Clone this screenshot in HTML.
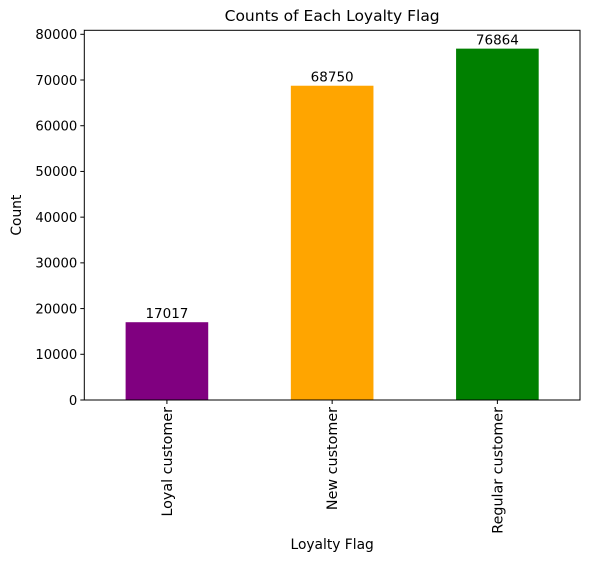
<!DOCTYPE html>
<html><head><meta charset="utf-8"><style>
body{margin:0;background:#fff;}
svg{display:block;font-family:"DejaVu Sans","Liberation Sans",sans-serif;}
</style></head><body>
<svg id="chart" width="589" height="562" xmlns="http://www.w3.org/2000/svg"></svg>
<script>
const categories = ["Loyal customer","New customer","Regular customer"];
const counts = [17017, 68750, 76864];
const colors = ["#800080","#ffa500","#008000"];
const yTicks = [0,10000,20000,30000,40000,50000,60000,70000,80000];

const NS="http://www.w3.org/2000/svg";
const svg=document.getElementById('chart');
const L=84.3,R=580,T=30.3,B=400;
const yMax=80000*(B-T)/(400-34.3);
function y(v){return B-v/yMax*(B-T);}
const step=(R-L)/categories.length;
function xc(i){return L+step*(i+0.5);}
const bw=step*0.5;
function mk(tag,attrs,txt){const e=document.createElementNS(NS,tag);for(const k in attrs)e.setAttribute(k,attrs[k]);if(txt!==undefined)e.textContent=txt;svg.appendChild(e);return e;}

let t=mk('text',{x:(L+R)/2,y:21,'text-anchor':'middle','font-size':15.5},'Counts of Each Loyalty Flag');



categories.forEach((c,i)=>{
  const r=mk('rect',{x:xc(i)-bw/2,y:y(counts[i]),width:bw,height:B-y(counts[i]),fill:colors[i]});
  
  
  const v=mk('text',{x:xc(i),y:y(counts[i])-4,'text-anchor':'middle','font-size':13.5},String(counts[i]));
  
  
  mk('line',{x1:xc(i),x2:xc(i),y1:B,y2:B+4,stroke:'#000','stroke-width':1});
  const l=mk('text',{x:0,y:0,'text-anchor':'end','font-size':14.3,transform:`translate(${xc(i)+5},${B+7}) rotate(-90)`},c);
  
  
});
yTicks.forEach(v=>{
  mk('line',{x1:L-4,x2:L,y1:y(v),y2:y(v),stroke:'#000','stroke-width':1});
  const l=mk('text',{x:L-7,y:y(v)+4.8,'text-anchor':'end','font-size':13.2},String(v));
  
  
});
const ax=mk('rect',{x:L,y:T,width:R-L,height:B-T,fill:'none',stroke:'#000','stroke-width':1});


const xt=mk('text',{x:(L+R)/2,y:549,'text-anchor':'middle','font-size':13.8},'Loyalty Flag');


const yt=mk('text',{x:0,y:0,'text-anchor':'middle','font-size':13.8,transform:`translate(21,${(T+B)/2}) rotate(-90)`},'Count');


</script>
</body></html>
